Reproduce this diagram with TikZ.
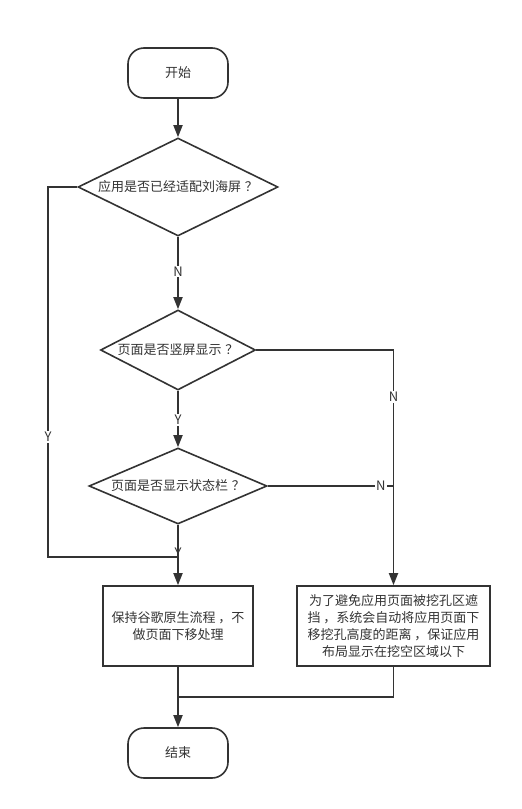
\documentclass[tikz,border=0pt]{standalone}
\usepackage{fontspec}
\setmainfont{Noto Sans CJK SC}
\usepackage{tikz}
\usetikzlibrary{shapes.geometric, arrows.meta, positioning}
\definecolor{ink}{HTML}{333333}
\newcommand{\wq}{\hspace{4pt}？}
\newcommand{\wc}{\hspace{3pt}，}
\tikzstyle{startstop} = [rectangle, rounded corners=16pt, minimum width=100pt, minimum height=50pt, text centered, draw=ink, line width=1.6pt]
\tikzstyle{decision} = [diamond, inner sep=0pt, text centered, draw=ink, line width=1.6pt]
\tikzstyle{process} = [rectangle, minimum height=80pt, inner sep=0pt, text centered, align=center, draw=ink, line width=1.6pt]
\tikzstyle{arrow} = [line width=1.8pt, draw=ink, ->, >={Triangle[length=12pt,width=9pt]}]
\tikzstyle{link} = [line width=1.8pt, draw=ink, -]
\tikzstyle{branch} = [fill=white, inner sep=1pt, text=ink]

\begin{document}
\begin{tikzpicture}[x=1pt, y=-1pt, font=\fontsize{13pt}{16.7pt}\selectfont, text=ink]
                    \useasboundingbox (0,0) rectangle (522,809);
                    \node (start) [startstop] at (178,73) {开始};
                    \node (fit) [decision, below of = start, node distance = 114pt, shape aspect=2.04, minimum width=200pt, minimum height=98pt] {应用是否已经适配刘海屏\wq};
                    \node (portrait) [decision, below of = fit, node distance = 163pt, shape aspect=1.94, minimum width=155pt, minimum height=80pt] {页面是否竖屏显示\wq};
                    \node (statusbar) [decision, below of = portrait, node distance = 136pt, shape aspect=2.34, minimum width=178pt, minimum height=76pt] {页面是否显示状态栏\wq};
                    \node (keep) [process, below of = statusbar, node distance = 140pt, minimum width=150pt] {保持谷歌原生流程\wc 不\\做页面下移处理};
                    \node (shift) [process, right of = keep, node distance = 215.5pt, minimum width=193pt] {为了避免应用页面被挖孔区遮\\挡\wc 系统会自动将应用页面下\\移挖孔高度的距离\wc 保证应用\\布局显示在挖空区域以下};
                    \node (stop) [startstop, below of = keep, node distance = 127pt] {结束};
                    \coordinate (yleft) at (48,557);
                    \coordinate (yjoin) at (178,557);
                    \coordinate (merge) at (178,697);
                    \draw [arrow] (start) -- (fit);
                    \draw [arrow] (fit.south) -- node[branch, pos=0.48] {N} (portrait.north);
                    \draw [arrow] (portrait.south) -- node[branch, pos=0.52] {Y} (statusbar.north);
                    \draw [arrow] (statusbar.south) -- (keep.north);
                    \node [branch, fill=none] at (178,553) {Y};
                    \draw [link] (fit.west) -| node[branch, pos=0.838] {Y} (yleft) -- (yjoin);
                    \draw [arrow] (portrait.east) -| node[branch, pos=0.60] {N} (shift.north);
                    \draw [link] (statusbar.east) -- node[branch, pos=0.9] {N} (statusbar.east -| shift.north);
                    \draw [arrow] (keep.south) -- (stop.north);
                    \draw [link] (shift.south) |- (merge);
                \end{tikzpicture}
\end{document}
